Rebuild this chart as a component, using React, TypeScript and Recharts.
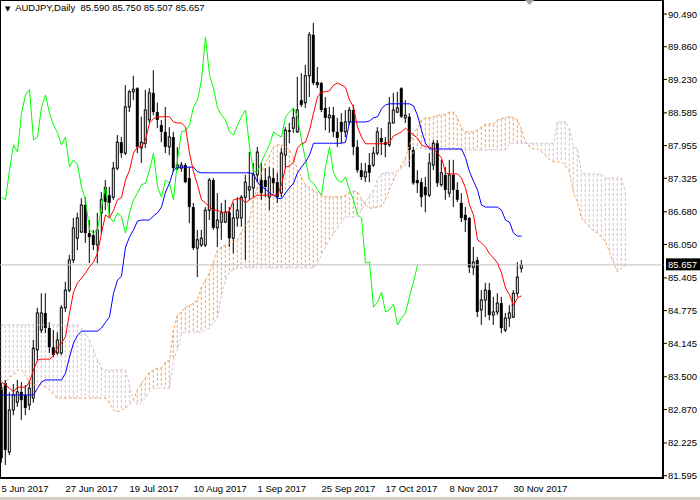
import React from "react";
import {
  ComposedChart,
  Bar,
  Line,
  XAxis,
  YAxis,
  ReferenceLine,
  ReferenceArea,
  ReferenceDot
} from "recharts";

const FONT = "'Liberation Sans', Arial, sans-serif";

const symbolTitle = "AUDJPY,Daily";
// open, high, low, close of the last bar
const lastQuote = [85.59, 85.75, 85.507, 85.657];

const tickBars = [0, 16, 32, 48, 64, 80, 96, 112, 128];
const tickLabels = [
  "5 Jun 2017", "27 Jun 2017", "19 Jul 2017", "10 Aug 2017", "1 Sep 2017",
  "25 Sep 2017", "17 Oct 2017", "8 Nov 2017", "30 Nov 2017"
];
const priceTicks = [
  90.49, 89.86, 89.23, 88.585, 87.955, 87.325, 86.68, 86.05,
  85.405, 84.775, 84.145, 83.5, 82.87, 82.225, 81.595
];

// daily candles, 5 Jun 2017 .. 4 Dec 2017
const openPx = [
  83.30, 83.38, 82.05, 82.86, 83.01, 83.21, 83.15, 82.96, 83.09, 84.02,
  84.40, 84.73, 84.44, 84.07, 83.96, 83.96, 84.83, 85.17, 85.75, 86.17,
  86.29, 86.81, 86.27, 86.23, 86.04, 86.66, 87.16, 87.00, 86.96, 87.52,
  88.02, 87.81, 88.70, 88.99, 89.06, 87.91, 88.00, 88.45, 88.97, 88.60,
  88.35, 88.22, 87.93, 88.12, 87.52, 87.52, 87.58, 87.33, 86.77, 85.98,
  86.04, 86.04, 86.71, 87.29, 86.37, 86.48, 86.48, 86.67, 86.17, 86.56,
  86.56, 86.96, 87.10, 87.14, 87.39, 87.29, 87.29, 86.96, 87.33, 87.25,
  87.04, 87.77, 88.25, 88.29, 88.22, 88.83, 88.78, 89.30, 90.09, 89.18,
  89.16, 88.68, 88.49, 88.54, 88.22, 88.41, 88.22, 88.41, 88.64, 87.93,
  87.48, 87.35, 87.58, 87.58, 87.81, 88.10, 88.02, 87.97, 88.39, 88.60,
  89.06, 88.49, 88.51, 87.87, 87.29, 87.25, 87.16, 87.00, 87.58, 88.00,
  87.20, 87.39, 87.04, 87.39, 87.10, 86.85, 86.62, 86.56, 85.61, 85.75,
  84.79, 84.98, 85.17, 84.69, 84.75, 84.92, 84.40, 84.63, 84.65, 85.11,
  85.59
];
const highPx = [
  83.38, 83.44, 83.20, 83.36, 83.44, 83.40, 83.34, 83.42, 84.21, 84.83,
  85.11, 85.11, 84.55, 84.40, 84.36, 84.88, 85.33, 85.85, 86.56, 86.66,
  86.94, 86.96, 86.52, 86.33, 86.66, 87.06, 87.29, 87.16, 87.64, 88.16,
  88.12, 89.12, 89.03, 89.30, 89.08, 88.51, 89.03, 89.06, 89.41, 88.78,
  88.45, 88.70, 88.31, 88.22, 87.93, 87.64, 87.62, 87.54, 86.85, 86.33,
  86.33, 86.77, 87.33, 87.33, 87.04, 86.85, 86.91, 86.77, 86.85, 86.96,
  87.00, 87.39, 87.83, 87.62, 87.93, 87.62, 87.52, 87.54, 87.52, 87.43,
  87.91, 88.31, 88.39, 88.68, 89.28, 89.35, 89.51, 90.14, 90.32, 89.47,
  89.18, 88.89, 88.70, 88.70, 88.49, 88.58, 88.64, 88.70, 88.74, 88.06,
  87.62, 87.62, 87.81, 87.93, 88.31, 88.29, 88.12, 88.89, 88.97, 88.99,
  89.08, 88.83, 88.58, 87.93, 87.48, 87.33, 87.35, 87.81, 88.06, 88.06,
  87.68, 87.54, 87.68, 87.68, 87.25, 87.04, 86.77, 86.58, 86.00, 85.81,
  85.17, 85.31, 85.31, 85.04, 85.11, 85.04, 84.73, 84.88, 85.17, 85.71,
  85.75
];
const lowPx = [
  81.84, 81.80, 81.99, 82.76, 82.92, 82.67, 82.76, 82.86, 83.00, 83.82,
  84.34, 84.34, 83.96, 83.88, 83.92, 83.92, 84.75, 85.13, 85.69, 85.94,
  86.27, 86.08, 85.69, 85.94, 85.69, 86.27, 86.71, 86.58, 86.91, 87.48,
  87.72, 87.77, 88.60, 88.83, 87.81, 87.62, 87.91, 88.39, 88.54, 88.29,
  88.02, 87.81, 87.77, 87.45, 87.48, 87.45, 87.23, 86.46, 85.94, 85.42,
  86.00, 86.00, 86.52, 86.33, 86.00, 86.14, 86.46, 86.00, 85.88, 86.39,
  86.39, 85.75, 86.91, 86.96, 87.25, 86.91, 86.96, 86.71, 87.04, 86.85,
  86.96, 87.52, 88.00, 88.20, 88.20, 88.70, 88.68, 88.89, 89.12, 89.06,
  88.60, 88.25, 88.20, 88.12, 87.93, 88.00, 88.12, 88.35, 87.77, 87.43,
  87.29, 87.25, 87.25, 87.54, 87.77, 87.77, 87.73, 87.93, 88.39, 88.58,
  88.49, 88.39, 87.54, 87.20, 87.04, 86.77, 86.67, 86.96, 87.48, 87.16,
  87.16, 86.91, 86.96, 86.77, 86.87, 86.48, 86.29, 85.50, 85.46, 84.65,
  84.50, 84.65, 84.59, 84.50, 84.69, 84.34, 84.36, 84.46, 84.63, 85.04,
  85.507
];
const closePx = [
  81.93, 82.09, 82.86, 83.15, 83.21, 83.05, 82.90, 83.28, 84.05, 84.73,
  84.73, 84.44, 84.07, 83.92, 84.21, 84.83, 85.17, 85.75, 86.37, 86.56,
  86.81, 86.27, 86.19, 86.04, 86.33, 86.91, 86.87, 86.85, 87.52, 88.02,
  87.81, 88.70, 88.99, 89.04, 87.93, 88.02, 88.64, 88.97, 88.60, 88.45,
  88.22, 87.93, 88.12, 87.52, 87.58, 87.58, 87.25, 86.77, 85.98, 86.14,
  86.17, 86.71, 87.29, 86.37, 86.52, 86.66, 86.67, 86.17, 86.56, 86.71,
  86.96, 87.25, 87.16, 87.39, 87.83, 87.04, 87.16, 87.35, 87.23, 86.96,
  87.81, 88.25, 88.22, 88.49, 88.64, 88.74, 89.30, 90.09, 89.16, 89.12,
  88.64, 88.49, 88.54, 88.22, 88.10, 88.22, 88.41, 88.64, 87.93, 87.48,
  87.35, 87.45, 87.43, 87.81, 88.22, 88.02, 87.97, 88.39, 88.64, 88.68,
  88.51, 88.54, 87.87, 87.23, 87.23, 86.96, 87.00, 87.62, 88.00, 87.23,
  87.43, 87.10, 87.39, 87.10, 86.91, 86.56, 86.52, 85.61, 85.71, 84.75,
  84.98, 85.17, 84.69, 84.75, 84.92, 84.44, 84.63, 84.73, 85.11, 85.42,
  85.657
];

// Ichimoku Kinko Hyo (9, 26, 52)
const tenkan = [
  83.40, 83.34, 83.28, 83.21, 83.30, 83.30, 83.30, 83.40, 83.63, 83.82,
  83.84, 83.84, 83.84, 83.90, 84.07, 84.15, 84.27, 84.73, 85.13, 85.31,
  85.40, 85.50, 85.62, 85.71, 85.88, 86.27, 86.62, 86.56, 86.71, 86.91,
  86.95, 87.29, 87.48, 87.81, 87.93, 87.93, 88.06, 88.39, 88.47, 88.51,
  88.51, 88.51, 88.51, 88.41, 88.39, 88.39, 88.31, 87.81, 87.45, 87.20,
  86.91, 86.85, 86.77, 86.71, 86.71, 86.67, 86.67, 86.69, 86.91, 86.93,
  86.93, 86.85, 86.91, 86.96, 87.00, 87.00, 87.00, 87.00, 87.00, 87.00,
  87.20, 87.54, 87.56, 87.64, 87.91, 87.99, 88.02, 88.25, 88.58, 88.89,
  88.99, 88.99, 89.01, 89.12, 89.16, 89.12, 89.08, 88.83, 88.70, 88.31,
  88.12, 87.99, 87.99, 87.99, 87.99, 87.99, 87.99, 88.02, 88.14, 88.18,
  88.22, 88.29, 88.22, 88.16, 88.10, 87.97, 87.93, 87.93, 87.89, 87.81,
  87.72, 87.43, 87.41, 87.41, 87.41, 87.33, 87.14, 86.81, 86.62, 86.14,
  86.08, 86.00, 85.87, 85.79, 85.69, 85.50, 85.21, 85.08, 84.88, 85.02,
  85.06
];
const kijun = [
  83.15, 83.15, 83.15, 83.15, 83.15, 83.15, 83.15, 83.15, 83.15, 83.28,
  83.40, 83.44, 83.44, 83.44, 83.44, 83.44, 83.57, 83.88, 84.15, 84.30,
  84.38, 84.38, 84.38, 84.38, 84.38, 84.44, 84.55, 84.65, 85.11, 85.36,
  85.44, 86.00, 86.19, 86.33, 86.50, 86.52, 86.52, 86.52, 86.60, 86.66,
  86.77, 87.06, 87.23, 87.48, 87.54, 87.54, 87.54, 87.54, 87.54, 87.45,
  87.43, 87.43, 87.43, 87.43, 87.43, 87.43, 87.43, 87.43, 87.43, 87.43,
  87.43, 87.43, 87.43, 87.41, 87.25, 87.16, 87.12, 87.04, 87.00, 86.94,
  86.93, 87.04, 87.14, 87.23, 87.43, 87.54, 87.64, 87.77, 88.00, 88.00,
  88.00, 88.00, 88.00, 88.00, 88.00, 88.00, 88.02, 88.41, 88.41, 88.41,
  88.41, 88.41, 88.43, 88.49, 88.51, 88.66, 88.74, 88.76, 88.76, 88.76,
  88.76, 88.76, 88.76, 88.72, 88.54, 88.25, 88.00, 87.89, 87.89, 87.89,
  87.89, 87.89, 87.89, 87.89, 87.89, 87.89, 87.72, 87.45, 87.27, 87.10,
  86.81, 86.77, 86.77, 86.77, 86.77, 86.71, 86.52, 86.48, 86.27, 86.21,
  86.21
];
// lagging span, drawn 26 bars back
const chikou = [
  86.96, 86.91, 87.48, 87.97, 87.83, 88.58, 88.93, 89.04, 88.06, 88.12,
  88.70, 88.93, 88.58, 88.35, 88.20, 87.97, 88.12, 87.54, 87.68, 87.58,
  87.16, 86.91, 86.33, 86.27, 86.33, 86.77, 87.16, 86.58, 86.48, 86.66,
  86.58, 86.27, 86.66, 86.91, 87.04, 87.20, 87.23, 87.48, 87.81, 87.16,
  86.96, 87.29, 87.23, 86.91, 87.68, 88.22, 88.24, 88.35, 88.70, 88.83,
  89.22, 90.05, 89.31, 89.06, 88.68, 88.54, 88.45, 88.22, 88.16, 88.35,
  88.51, 88.64, 87.93, 87.45, 87.45, 87.64, 87.81, 87.97, 88.22, 88.16,
  88.12, 88.51, 88.60, 88.68, 88.51, 88.06, 87.68, 87.29, 87.23, 87.10,
  87.00, 87.54, 87.93, 87.43, 87.29, 87.25, 87.35, 87.10, 86.91, 86.62,
  86.56, 85.69, 85.71, 84.84, 84.94, 85.13, 84.75, 84.79, 84.90, 84.50,
  84.63, 84.73, 85.04, 85.33, 85.65
];
// leading spans, drawn 26 bars ahead
const senkouA = [
  83.25, 83.38, 83.50, 83.53, 83.63, 83.63, 83.53, 83.38, 83.36, 83.34,
  83.34, 83.30, 83.25, 83.15, 83.09, 83.09, 83.09, 83.09, 83.09, 83.09,
  83.09, 83.09, 83.09, 83.09, 83.09, 83.09, 83.09, 82.99, 82.86, 82.82,
  82.86, 82.90, 82.96, 83.05, 83.25, 83.38, 83.48, 83.59, 83.63, 83.67,
  83.67, 83.78, 83.82, 84.40, 84.69, 84.75, 84.84, 84.88, 84.92, 84.98,
  85.23, 85.36, 85.50, 85.71, 85.94, 86.00, 86.04, 86.08, 86.10, 86.14,
  86.29, 86.42, 86.52, 86.91, 87.16, 87.43, 87.62, 87.77, 87.93, 87.97,
  87.97, 87.93, 87.87, 87.73, 87.48, 87.35, 87.20, 87.14, 87.10, 87.04,
  87.00, 86.97, 86.97, 86.97, 86.97, 86.97, 87.00, 87.06, 87.08, 87.06,
  86.94, 86.81, 86.75, 86.75, 86.77, 86.79, 86.91, 87.10, 87.29, 87.45,
  87.58, 87.72, 87.97, 88.20, 88.29, 88.45, 88.49, 88.49, 88.51, 88.54,
  88.54, 88.56, 88.60, 88.60, 88.49, 88.29, 88.22, 88.22, 88.22, 88.26,
  88.31, 88.37, 88.37, 88.37, 88.45, 88.47, 88.49, 88.52, 88.49, 88.45,
  88.26, 88.02, 87.93, 87.89, 87.89, 87.83, 87.77, 87.68, 87.64, 87.64,
  87.64, 87.56, 87.45, 87.04, 86.87, 86.56, 86.46, 86.39, 86.31, 86.27,
  86.19, 86.10, 85.90, 85.71, 85.52, 85.60, 85.65
];
const senkouB = [
  84.50, 84.50, 84.50, 84.50, 84.50, 84.50, 84.50, 84.50, 84.50, 84.50,
  84.50, 84.50, 84.50, 84.50, 84.50, 84.50, 84.50, 84.50, 84.50, 84.50,
  84.44, 84.34, 84.21, 84.02, 83.82, 83.67, 83.63, 83.63, 83.63, 83.63,
  83.63, 83.63, 83.34, 83.05, 82.96, 83.01, 83.09, 83.21, 83.28, 83.28,
  83.28, 83.28, 83.28, 83.82, 84.02, 84.34, 84.36, 84.36, 84.36, 84.36,
  84.36, 84.40, 84.44, 84.55, 84.63, 85.08, 85.36, 85.52, 85.56, 85.60,
  85.60, 85.60, 85.60, 85.60, 85.60, 85.60, 85.60, 85.60, 85.60, 85.60,
  85.60, 85.60, 85.60, 85.60, 85.60, 85.60, 85.60, 85.60, 85.60, 85.69,
  85.85, 86.00, 86.14, 86.27, 86.37, 86.48, 86.58, 86.58, 86.58, 86.58,
  86.71, 86.87, 86.98, 87.10, 87.29, 87.41, 87.43, 87.43, 87.43, 87.46,
  87.52, 87.58, 87.68, 87.83, 87.91, 87.91, 87.89, 87.87, 87.87, 87.87,
  87.87, 87.87, 87.87, 87.87, 87.87, 87.87, 87.87, 87.87, 87.87, 87.87,
  87.87, 87.87, 87.87, 87.87, 87.87, 87.87, 87.87, 88.00, 88.00, 88.00,
  88.00, 88.00, 88.00, 88.00, 88.00, 88.00, 88.00, 88.00, 88.00, 88.41,
  88.41, 88.41, 88.29, 87.93, 87.89, 87.41, 87.41, 87.41, 87.41, 87.41,
  87.41, 87.33, 87.33, 87.33, 87.33, 87.33, 87.04
];

const rows = senkouA.map((a, i) => {
  const b = senkouB[i];
  const has = i < closePx.length;
  return {
    i,
    candle: has ? [lowPx[i], highPx[i]] : undefined,
    open: has ? openPx[i] : undefined,
    high: has ? highPx[i] : undefined,
    low: has ? lowPx[i] : undefined,
    close: has ? closePx[i] : undefined,
    tenkan: tenkan[i],
    kijun: kijun[i],
    chikou: chikou[i],
    spanA: a,
    spanB: b,
    cloud: [Math.min(a, b), Math.max(a, b)]
  };
});

const X_DOMAIN: [number, number] = [-0.375, 165.375];
const Y_DOMAIN: [number, number] = [81.55, 90.76];
const PLOT_BOTTOM = 478;

const CandleShape = (props: any) => {
  const { x, width, payload } = props;
  let { y, height } = props;
  if (!payload || payload.open == null || !isFinite(y) || !isFinite(height)) return <g />;
  if (height < 0) {
    y += height;
    height = -height;
  }
  const cx = x + width / 2;
  const span = payload.high - payload.low || 1;
  const toY = (v: number) => y + ((payload.high - v) / span) * height;
  const yo = toY(payload.open);
  const yc = toY(payload.close);
  const top = Math.min(yo, yc);
  const bot = Math.max(yo, yc);
  const up = payload.close >= payload.open;
  return (
    <g>
      <line x1={cx} x2={cx} y1={y} y2={y + height} stroke="#000" strokeWidth={1} />
      {up ? (
        <rect x={cx - 1} y={top} width={2} height={Math.max(bot - top, 0.5)} fill="#fff" stroke="#000" strokeWidth={1} />
      ) : (
        <rect x={cx - 1.5} y={top} width={3} height={Math.max(bot - top, 1)} fill="#000" />
      )}
    </g>
  );
};

const HatchShape = (props: any) => {
  const { x, width, payload } = props;
  let { y, height } = props;
  if (!payload || !isFinite(y) || !isFinite(height)) return <g />;
  if (height < 0) {
    y += height;
    height = -height;
  }
  const cx = x + width / 2;
  const color = payload.spanA >= payload.spanB ? "#f4a460" : "#d8bfd8";
  return <line x1={cx} x2={cx} y1={y} y2={y + height} stroke={color} strokeWidth={1} strokeDasharray="3 2" />;
};

const DateTick = ({ x, payload }: any) => {
  const idx = tickBars.indexOf(payload.value);
  return (
    <text x={x} y={PLOT_BOTTOM + 14} textAnchor="start" fontSize={9.5} fontFamily={FONT} fill="#000">
      {tickLabels[idx]}
    </text>
  );
};

const PriceTick = ({ x, y, payload }: any) => (
  <text x={x} y={y + 3.5} textAnchor="start" fontSize={9.5} fontFamily={FONT} fill="#000">
    {Number(payload.value).toFixed(3)}
  </text>
);

const PriceTag = ({ viewBox }: any) => {
  if (!viewBox) return null;
  const right = viewBox.x + viewBox.width;
  const cy = viewBox.y;
  return (
    <g>
      <rect x={right + 3} y={cy - 6.5} width={37} height={12} fill="#000" />
      <text x={right + 5} y={cy + 3.5} fontSize={9.5} fontFamily={FONT} fill="#fff">
        {lastQuote[3].toFixed(3)}
      </text>
    </g>
  );
};

const ShiftMark = (props: any) => {
  const { cx } = props;
  if (!isFinite(cx)) return <g />;
  return <polygon points={`${cx - 4.5},0 ${cx + 4.5},0 ${cx},5`} fill="#a0a0a0" />;
};

export default function App() {
  return (
    <div style={{ position: "relative", width: 700, height: 500, background: "#fff", fontFamily: FONT }}>
      <style>{"body{margin:0}"}</style>
      <ComposedChart width={700} height={500} data={rows} margin={{ top: 0, right: 0, bottom: 0, left: 0 }}>
        <XAxis
          xAxisId="t"
          dataKey="i"
          type="number"
          domain={X_DOMAIN}
          allowDataOverflow
          ticks={tickBars}
          interval={0}
          height={22}
          axisLine={{ stroke: "#000" }}
          tickLine={{ stroke: "#000" }}
          tickSize={4}
          tickMargin={2}
          tick={<DateTick />}
        />
        <XAxis xAxisId="k" dataKey="i" type="number" domain={X_DOMAIN} allowDataOverflow hide />
        <YAxis
          orientation="right"
          width={37}
          domain={Y_DOMAIN}
          allowDataOverflow
          ticks={priceTicks}
          interval={0}
          axisLine={{ stroke: "#000" }}
          tickLine={{ stroke: "#000" }}
          tickSize={4}
          tickMargin={1}
          tick={<PriceTick />}
        />
        <ReferenceLine xAxisId="t" y={lastQuote[3]} stroke="#c0c0c0" strokeWidth={1} label={<PriceTag />} />
        <Bar xAxisId="k" dataKey="cloud" barSize={4} shape={<HatchShape />} isAnimationActive={false} />
        <Line xAxisId="t" dataKey="spanA" type="linear" stroke="#f4a460" strokeWidth={1} strokeDasharray="3 2" dot={false} activeDot={false} isAnimationActive={false} />
        <Line xAxisId="t" dataKey="spanB" type="linear" stroke="#d8bfd8" strokeWidth={1} strokeDasharray="3 2" dot={false} activeDot={false} isAnimationActive={false} />
        <Bar xAxisId="t" dataKey="candle" barSize={4} shape={<CandleShape />} isAnimationActive={false} />
        <Line xAxisId="t" dataKey="chikou" type="linear" stroke="#00ff00" strokeWidth={1} dot={false} activeDot={false} isAnimationActive={false} />
        <Line xAxisId="t" dataKey="kijun" type="linear" stroke="#0000ff" strokeWidth={1} dot={false} activeDot={false} isAnimationActive={false} />
        <Line xAxisId="t" dataKey="tenkan" type="linear" stroke="#ff0000" strokeWidth={1} dot={false} activeDot={false} isAnimationActive={false} />
        <ReferenceDot xAxisId="t" x={132} y={Y_DOMAIN[1]} r={4} shape={<ShiftMark />} />
        <ReferenceArea
          xAxisId="t"
          x1={X_DOMAIN[0]}
          x2={X_DOMAIN[1]}
          y1={Y_DOMAIN[0]}
          y2={Y_DOMAIN[1]}
          fill="none"
          fillOpacity={0}
          stroke="#000"
          strokeWidth={2}
        />
      </ComposedChart>
      <div
        style={{
          position: "absolute",
          left: 5,
          top: 2,
          fontSize: 9.5,
          lineHeight: "12px",
          whiteSpace: "pre",
          color: "#000"
        }}
      >
        <span style={{ fontSize: 7, fontFamily: "'DejaVu Sans', sans-serif" }}>▼</span>
        {`  ${symbolTitle}  ${lastQuote.map((v) => v.toFixed(3)).join(" ")}`}
      </div>
      <div style={{ position: "absolute", left: 0, top: 497, width: 700, height: 3, background: "#d4d0c8" }} />
    </div>
  );
}
